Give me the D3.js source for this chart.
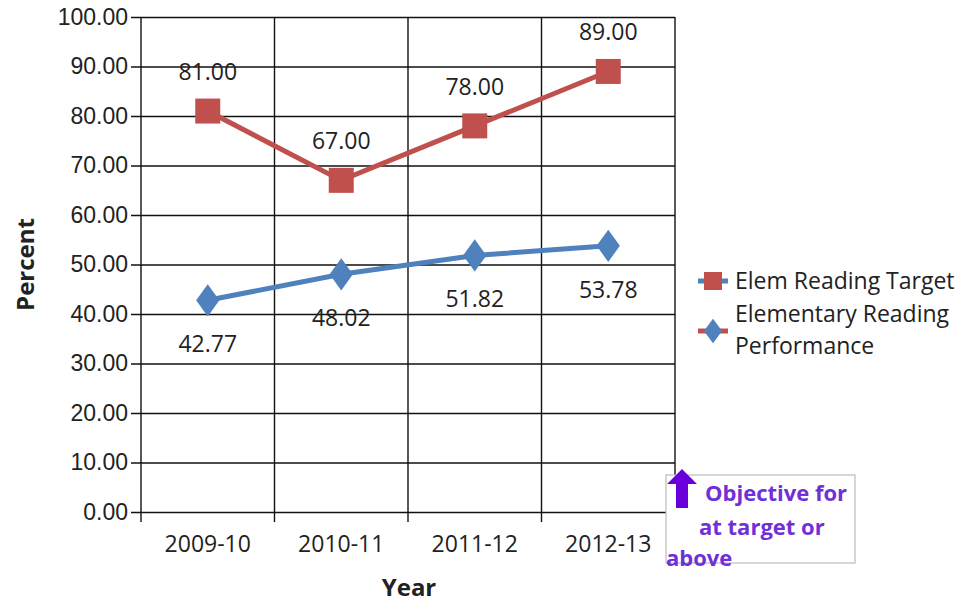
<!DOCTYPE html>
<html>
<head>
<meta charset="utf-8">
<script src="https://cdn.jsdelivr.net/npm/d3@7"></script>
<style>
  body { margin: 0; background: #fff; }
  svg { display: block; font-family: "Open Sans", Lato, sans-serif; }
</style>
</head>
<body>
<svg width="959" height="604"></svg>
<script>
// data
var years = ["2009-10", "2010-11", "2011-12", "2012-13"];
var target = [81.00, 67.00, 78.00, 89.00];
var performance = [42.77, 48.02, 51.82, 53.78];
var yTicks = [0, 10, 20, 30, 40, 50, 60, 70, 80, 90, 100];

var svg = d3.select("svg"),
    margin = {top: 17, right: 284, bottom: 92, left: 141},
    width = +svg.attr("width") - margin.left - margin.right,
    height = +svg.attr("height") - margin.top - margin.bottom;

var red = "#C0504D", blue = "#4F81BD", purple = "#7030D8";
var fs = 23;

var g = svg.append("g").attr("transform", "translate(" + margin.left + "," + margin.top + ")");

var x = d3.scaleBand().domain(years).range([0, width]);
var y = d3.scaleLinear().domain([0, 100]).range([height, 0]);

// horizontal gridlines + left ticks
g.append("g")
    .call(d3.axisLeft(y).tickValues(yTicks).tickSize(-width).tickSizeOuter(0).tickPadding(13)
      .tickFormat(d3.format(".2f")))
    .call(function(a) {
      a.select(".domain").remove();
      a.selectAll(".tick line").attr("stroke", "#111").attr("stroke-width", 1.4).attr("x1", -10);
      a.selectAll(".tick text").attr("font-size", fs).attr("fill", "#222");
    });

// vertical gridlines
g.append("g").selectAll("line")
    .data(years.slice(1))
    .enter().append("line")
    .attr("x1", function(d) { return x(d); })
    .attr("x2", function(d) { return x(d); })
    .attr("y1", 0).attr("y2", height + 10)
    .attr("stroke", "#111").attr("stroke-width", 1.4);

g.append("line").attr("x1", 0).attr("x2", 0).attr("y1", 0).attr("y2", height + 10)
    .attr("stroke", "#111").attr("stroke-width", 1.4);
g.append("line").attr("x1", width).attr("x2", width).attr("y1", 0).attr("y2", height)
    .attr("stroke", "#111").attr("stroke-width", 1.4);

// x labels
g.append("g").selectAll("text")
    .data(years)
    .enter().append("text")
    .attr("x", function(d) { return x(d) + x.bandwidth() / 2; })
    .attr("y", height + 40)
    .attr("text-anchor", "middle")
    .attr("font-size", fs).attr("fill", "#222")
    .text(function(d) { return d; });

// axis titles
svg.append("text")
    .attr("transform", "translate(34," + (margin.top + height / 2) + ") rotate(-90)")
    .attr("text-anchor", "middle")
    .attr("font-size", 24).attr("font-weight", "bold").attr("fill", "#222")
    .text("Percent");
svg.append("text")
    .attr("x", margin.left + width / 2 + 1).attr("y", 596)
    .attr("text-anchor", "middle")
    .attr("font-size", 24).attr("font-weight", "bold").attr("fill", "#222")
    .text("Year");

var cx = function(i) { return x(years[i]) + x.bandwidth() / 2; };
var line = d3.line().x(function(d, i) { return cx(i); }).y(function(d) { return y(d); });

// series lines
g.append("path").datum(performance).attr("d", line)
    .attr("fill", "none").attr("stroke", blue).attr("stroke-width", 5);
g.append("path").datum(target).attr("d", line)
    .attr("fill", "none").attr("stroke", red).attr("stroke-width", 5);

var sq = d3.symbol().type(d3.symbolSquare).size(25 * 25);
var dia = d3.symbol().type(d3.symbolDiamond).size(300);

g.selectAll(".perf")
    .data(performance)
    .enter().append("path")
    .attr("class", "perf")
    .attr("d", dia)
    .attr("transform", function(d, i) { return "translate(" + cx(i) + "," + y(d) + ") scale(1.25,1)"; })
    .attr("fill", blue);

g.selectAll(".targ")
    .data(target)
    .enter().append("path")
    .attr("class", "targ")
    .attr("d", sq)
    .attr("transform", function(d, i) { return "translate(" + cx(i) + "," + y(d) + ")"; })
    .attr("fill", red);

// data labels
g.selectAll(".tlab")
    .data(target)
    .enter().append("text")
    .attr("x", function(d, i) { return cx(i); })
    .attr("y", function(d) { return y(d) - 31; })
    .attr("text-anchor", "middle")
    .attr("font-size", fs).attr("fill", "#222")
    .text(function(d) { return d.toFixed(2); });

g.selectAll(".plab")
    .data(performance)
    .enter().append("text")
    .attr("x", function(d, i) { return cx(i); })
    .attr("y", function(d) { return y(d) + 52; })
    .attr("text-anchor", "middle")
    .attr("font-size", fs).attr("fill", "#222")
    .text(function(d) { return d.toFixed(2); });

// legend
var leg = svg.append("g").attr("transform", "translate(698,0)");
leg.append("line").attr("x1", 0).attr("x2", 30).attr("y1", 281).attr("y2", 281)
    .attr("stroke", blue).attr("stroke-width", 5);
leg.append("rect").attr("x", 6).attr("y", 272).attr("width", 18).attr("height", 18).attr("fill", red);
leg.append("text").attr("x", 37).attr("y", 289).attr("font-size", fs).attr("fill", "#222")
    .text("Elem Reading Target");

leg.append("line").attr("x1", 0).attr("x2", 30).attr("y1", 331).attr("y2", 331)
    .attr("stroke", red).attr("stroke-width", 5);
leg.append("path").attr("d", d3.symbol().type(d3.symbolDiamond).size(170))
    .attr("transform", "translate(15,331) scale(1.3,1)").attr("fill", blue);
leg.append("text").attr("x", 37).attr("y", 322).attr("font-size", fs).attr("fill", "#222")
    .text("Elementary Reading");
leg.append("text").attr("x", 37).attr("y", 354).attr("font-size", fs).attr("fill", "#222")
    .text("Performance");

// objective box
var ob = svg.append("g");
ob.append("rect").attr("x", 666).attr("y", 475).attr("width", 189).attr("height", 88)
    .attr("fill", "#fff").attr("stroke", "#bbb").attr("stroke-width", 1.2);
ob.append("path")
    .attr("d", "M682,469 L697,484 L688,484 L688,508 L676,508 L676,484 L667,484 Z")
    .attr("fill", "#6A00D9");
ob.append("text").attr("x", 705).attr("y", 501).attr("font-size", 22).attr("font-weight", "bold")
    .attr("fill", purple).text("Objective for");
ob.append("text").attr("x", 699).attr("y", 535).attr("font-size", 22).attr("font-weight", "bold")
    .attr("fill", purple).text("at target or");
ob.append("text").attr("x", 666).attr("y", 566).attr("font-size", 22).attr("font-weight", "bold")
    .attr("fill", purple).text("above");
</script>
</body>
</html>
